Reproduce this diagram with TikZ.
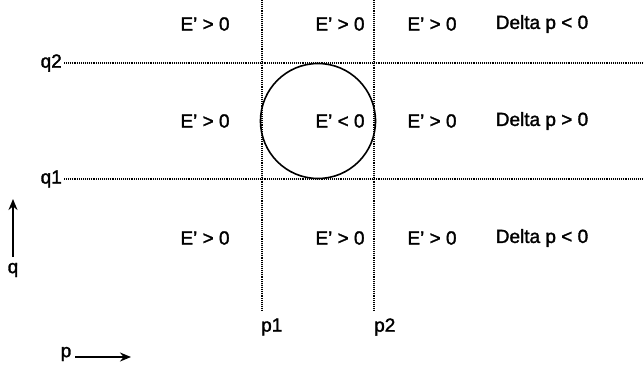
\documentclass[tikz,border=0pt]{standalone}
\usepackage{fontspec}
\setmainfont{Liberation Sans}[FakeBold=1.6]
\usetikzlibrary{arrows.meta}
\begin{document}
\begin{tikzpicture}[x=1pt,y=-1pt,
  lbl/.style={font=\fontsize{19}{21}\selectfont, inner sep=0pt},
  grid/.style={line width=1.1pt, dash pattern=on 1pt off 0.9pt, black},
  ax/.style={line width=2pt, -{Stealth[length=11pt,width=9pt]}}]
\useasboundingbox (0,0) rectangle (644,372);
% grid lines
\coordinate (p1t) at (262,0); \coordinate (p1b) at (262,310);
\coordinate (p2t) at (374,0); \coordinate (p2b) at (374,310);
\coordinate (q2l) at (64,63); \coordinate (q2r) at (644,63);
\coordinate (q1l) at (64,179); \coordinate (q1r) at (644,179);
\draw[grid] (p1t) -- (p1b);
\draw[grid] (p2t) -- (p2b);
\draw[grid] (q2l) -- (q2r);
\draw[grid] (q1l) -- (q1r);
% circle
\node[draw, circle, line width=1.6pt, minimum size=115pt, inner sep=0pt] (c) at (318,121) {};
% labels
\node[lbl, anchor=east] (q2) at (62,63) {q2};
\node[lbl, anchor=east] (q1) at (62,179) {q1};
\node[lbl, anchor=west] (p1) at (261,327) {p1};
\node[lbl, anchor=west] (p2) at (374,327) {p2};
% row 1
\node[lbl] (a1) at (205,24) {E' > 0};
\node[lbl] (b1) at (340,24) {E' > 0};
\node[lbl] (c1) at (432,24) {E' > 0};
\node[lbl] (d1) at (542,24) {Delta p < 0};
% row 2
\node[lbl] (a2) at (205,121) {E' > 0};
\node[lbl] (b2) at (340,121) {E' < 0};
\node[lbl] (c2) at (432,121) {E' > 0};
\node[lbl] (d2) at (542,121) {Delta p > 0};
% row 3
\node[lbl] (a3) at (205,238) {E' > 0};
\node[lbl] (b3) at (340,238) {E' > 0};
\node[lbl] (c3) at (432,238) {E' > 0};
\node[lbl] (d3) at (542,238) {Delta p < 0};
% axes
\node[lbl] (q) at (13,270) {q};
\coordinate (qtop) at (13,199);
\coordinate (qbase) at (13,257);
\draw[ax] (qbase) -- (qtop);
\node[lbl] (p) at (66,354) {p};
\coordinate (pbase) at (75,357);
\coordinate (pend) at (131,357);
\draw[ax] (pbase) -- (pend);
\end{tikzpicture}
\end{document}
